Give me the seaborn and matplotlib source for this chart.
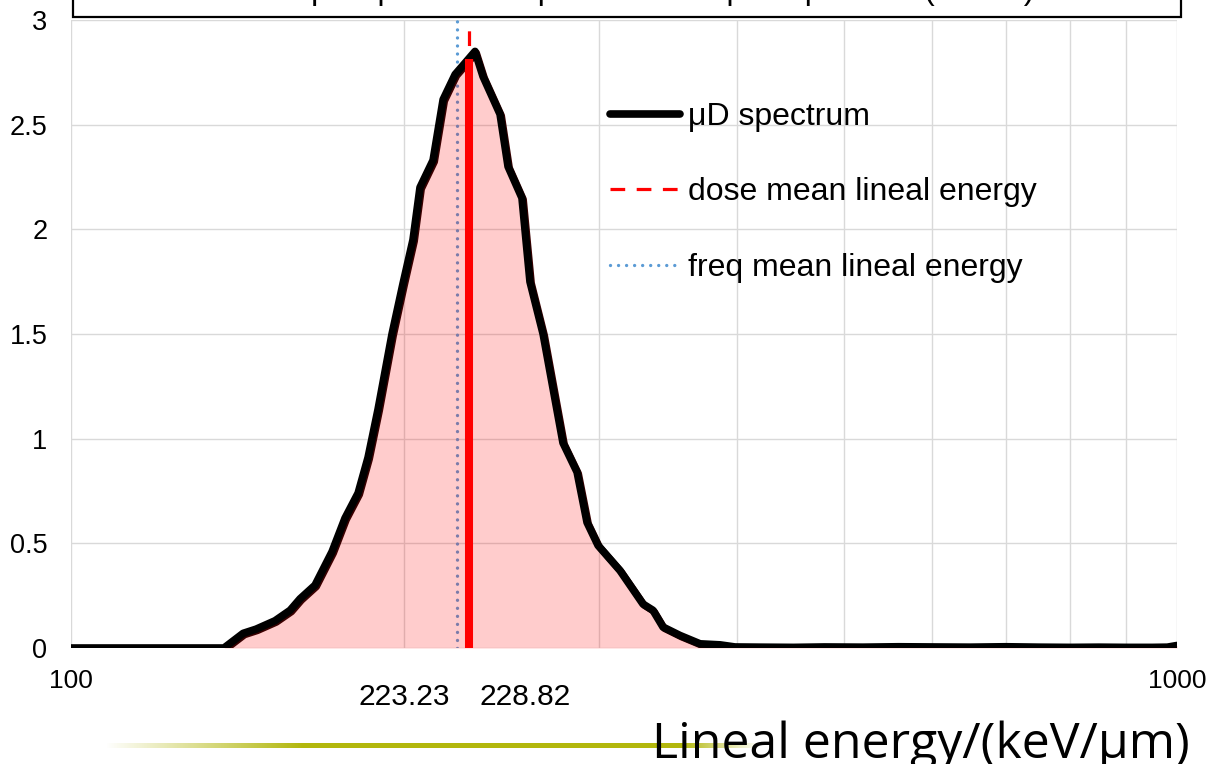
import numpy as np
import pandas as pd
import matplotlib
matplotlib.use("Agg")
import matplotlib.pyplot as plt
import matplotlib.transforms as mtransforms
from matplotlib.patches import Rectangle
import seaborn as sns

# Lineal energy bins (keV/μm) and the dose-weighted spectrum μD
energy = [100, 110, 120, 130, 137.5, 143.1, 147.0, 152.9, 157.8, 161.1,
          166.2, 172.2, 176.9, 181.8, 185.6, 189.5, 195.1, 199.6, 203.8,
          206.8, 212.5, 217.0, 222.5, 227.6, 231.9, 235.8, 244.3, 248.4,
          255.7, 260.0, 267.2, 278.5, 286.8, 292.8, 299.6, 313.6, 329.0,
          335.9, 343.0, 355.3, 370.5, 386.3, 398.4, 420, 450, 480, 520,
          560, 600, 650, 700, 750, 800, 850, 900, 950, 980, 1000]
spectrum = [0, 0, 0, 0, 0, 0.07, 0.09, 0.13, 0.18, 0.235,
            0.30, 0.46, 0.62, 0.74, 0.91, 1.14, 1.50, 1.74, 1.95,
            2.20, 2.33, 2.62, 2.74, 2.80, 2.85, 2.73, 2.55, 2.30,
            2.15, 1.75, 1.50, 0.98, 0.84, 0.60, 0.49, 0.37, 0.21,
            0.18, 0.10, 0.06, 0.02, 0.015, 0.005, 0.004, 0.003, 0.005, 0.004,
            0.006, 0.005, 0.004, 0.006, 0.004, 0.003, 0.004, 0.003, 0.003, 0.004, 0.012]

freq_mean = 223.23   # frequency mean lineal energy
dose_mean = 228.82   # dose mean lineal energy

x_ticks = [100, 1000]
x_minor = [200, 300, 400, 500, 600, 700, 800, 900]
y_ticks = [0, 0.5, 1, 1.5, 2, 2.5, 3]
y_labels = ["0", "0.5", "1", "1.5", "2", "2.5", "3"]
series_labels = ["μD spectrum", "dose mean lineal energy", "freq mean lineal energy"]
title_text = "The μD spectrum of proton at the peak position (SOBP)"
x_label = "Lineal energy/(keV/μm)"

df = pd.DataFrame({"energy": energy, "spectrum": spectrum})

sns.set_theme(style="whitegrid")
plt.rcParams["font.family"] = ["Liberation Sans", "DejaVu Sans"]

W, H = 1209, 764
fig = plt.figure(figsize=(W / 100, H / 100), dpi=100)
fig.patch.set_facecolor("white")
ax = fig.add_axes([71 / W, 1 - 648 / H, (1177 - 71) / W, (648 - 20) / H])
ax.set_facecolor("white")

ax.set_xscale("log")
ax.set_xlim(100, 1000)
ax.set_ylim(0, 3)

# grid: horizontal at each y tick, vertical at every decade step
ax.set_xticks(x_ticks)
ax.set_xticklabels([str(v) for v in x_ticks])
ax.set_xticks(x_minor, minor=True)
ax.set_xticklabels([], minor=True)
ax.set_yticks(y_ticks)
ax.set_yticklabels(y_labels)
ax.grid(True, which="both", axis="x", color="#D9D9D9", lw=1.0)
ax.grid(True, which="major", axis="y", color="#D9D9D9", lw=1.0)
for s in ax.spines.values():
    s.set_visible(False)
ax.tick_params(axis="both", which="both", length=0)
ax.tick_params(axis="y", pad=17, labelsize=19.5, labelcolor="black")
ax.tick_params(axis="x", pad=15, labelsize=19, labelcolor="black")

# frequency mean (dotted blue)
freq_line = ax.axvline(freq_mean, color="#5B9BD5", lw=2.4, ls=(0, (0.01, 2.4)),
                       dash_capstyle="round", zorder=2)

# shaded area under the spectrum
ax.fill_between(df["energy"], 0, df["spectrum"], color="red", alpha=0.2,
                lw=0, zorder=3)
shadow = mtransforms.offset_copy(ax.transData, fig=fig, x=1.5, y=-1.5, units="dots")
ax.plot(df["energy"], df["spectrum"], color="#3a0000", lw=5,
        solid_joinstyle="round", transform=shadow, zorder=4)

# dose mean (dashed red, solid below the spectrum)
dose_line = ax.axvline(dose_mean, color="red", lw=2.3, ls=(0, (4.6, 3.6)), zorder=4)

sns.lineplot(data=df, x="energy", y="spectrum", ax=ax, color="black", lw=5.5,
             legend=False, zorder=5, solid_joinstyle="round", solid_capstyle="round")
spec_line = ax.lines[-1]

log_e = np.log10(df["energy"])
dose_height = np.interp(np.log10(dose_mean), log_e, df["spectrum"])
ax.plot([dose_mean, dose_mean], [0, dose_height], color="red", lw=5.8,
        solid_capstyle="butt", zorder=6)

ax.set_xlabel("")
ax.set_ylabel("")

# value labels for the two means
ax.annotate(f"{freq_mean:.2f}", xy=(freq_mean, 0), xycoords=("data", "axes fraction"),
            xytext=(-7, -49), textcoords="offset pixels", ha="right", va="center",
            fontsize=21.5, color="black", annotation_clip=False)
ax.annotate(f"{dose_mean:.2f}", xy=(dose_mean, 0), xycoords=("data", "axes fraction"),
            xytext=(11, -49), textcoords="offset pixels", ha="left", va="center",
            fontsize=21.5, color="black", annotation_clip=False)

leg = ax.legend([spec_line, dose_line, freq_line], series_labels,
                loc="upper left", bbox_to_anchor=(610 / W, 1 - 102 / H),
                bbox_transform=fig.transFigure, frameon=False, fontsize=23,
                handlelength=2.2, handletextpad=0.25, labelspacing=1.42,
                borderpad=0, borderaxespad=0)
for t in leg.get_texts():
    t.set_color("black")

# framed title box at the top edge
fig.patches.append(Rectangle((73 / W, 1 - 17 / H), (1181 - 73) / W, 0.2,
                             transform=fig.transFigure, facecolor="white",
                             edgecolor="black", lw=1.6, zorder=3))
fig.text(0.53, 1 + 1.5 / H, title_text, ha="center", va="baseline", fontsize=23,
         color="black", zorder=4)

# olive accent rule under the axis title
rule_ax = fig.add_axes([105 / W, 1 - 748 / H, (760 - 105) / W, 5 / H])
pos = np.linspace(0, 1, 400)
alpha = np.interp(pos, [0, 0.3, 0.88, 1.0], [0, 1, 1, 0])
rgba = np.zeros((1, pos.size, 4))
rgba[..., 0], rgba[..., 1], rgba[..., 2] = 0.70, 0.72, 0.05
rgba[..., 3] = alpha
rule_ax.imshow(rgba, aspect="auto", interpolation="bilinear")
rule_ax.axis("off")

fig.text(1190 / W, 1 - 758 / H, x_label, ha="right", va="baseline", fontsize=36,
         family=["Open Sans", "DejaVu Sans"], color="black", zorder=5)

fig.savefig("out.png", dpi=100, facecolor="white")
